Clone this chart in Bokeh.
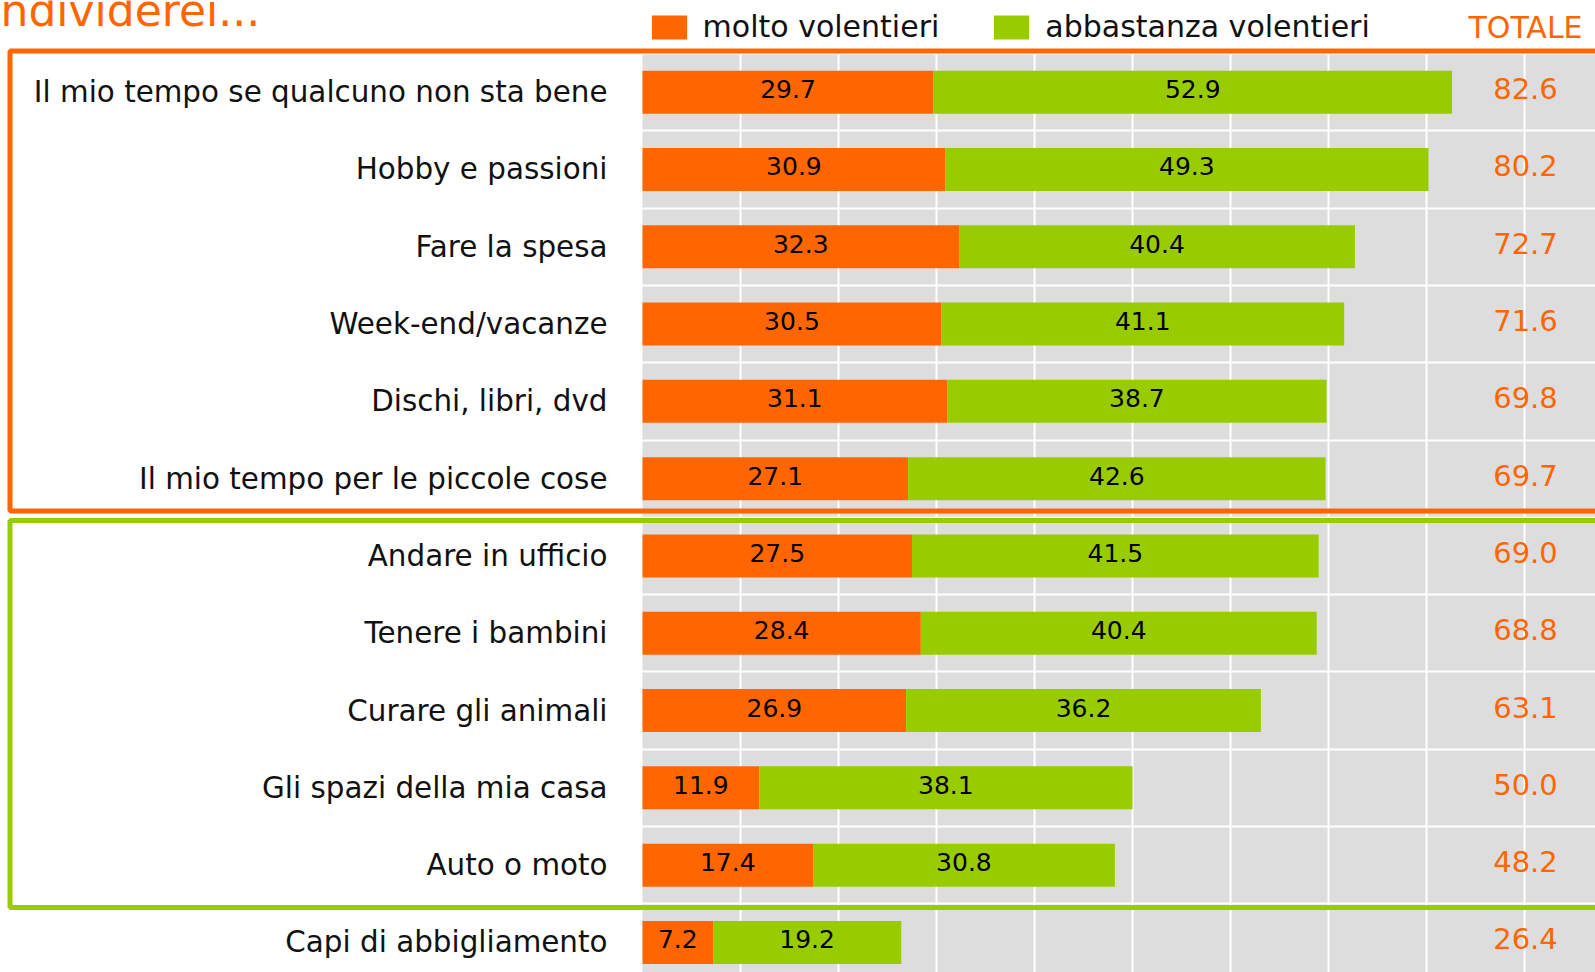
from bokeh.plotting import figure
from bokeh.models import (Range1d, FixedTicker, BoxAnnotation, Legend,
                          LegendItem, ColumnDataSource, Grid)
from bokeh.embed import file_html
from bokeh.resources import INLINE
from bokeh.core.properties import value

# ---------------- data ----------------
categories = [
    "Il mio tempo se qualcuno non sta bene",
    "Hobby e passioni",
    "Fare la spesa",
    "Week-end/vacanze",
    "Dischi, libri, dvd",
    "Il mio tempo per le piccole cose",
    "Andare in ufficio",
    "Tenere i bambini",
    "Curare gli animali",
    "Gli spazi della mia casa",
    "Auto o moto",
    "Capi di abbigliamento",
]
molto = [29.7, 30.9, 32.3, 30.5, 31.1, 27.1, 27.5, 28.4, 26.9, 11.9, 17.4, 7.2]
abbastanza = [52.9, 49.3, 40.4, 41.1, 38.7, 42.6, 41.5, 40.4, 36.2, 38.1, 30.8, 19.2]
totale = [82.6, 80.2, 72.7, 71.6, 69.8, 69.7, 69.0, 68.8, 63.1, 50.0, 48.2, 26.4]
series_names = ["molto volentieri", "abbastanza volentieri"]
total_header = "TOTALE"
title_text = "ndividerei..."
x_grid_ticks = [10, 20, 30, 40, 50, 60, 70, 80, 90]

# ---------------- style / layout ----------------
ORANGE = "#FF6600"
GREEN = "#99CC00"
GREY = "#DDDDDD"
FONT = value("DejaVu Sans")

W, H = 1595, 972
X0_PX, Y12_PX = 642, 53   # pixel position of x=0 and of the top row boundary
PX_X = 9.8                # pixels per unit on x
PX_Y = 77.3               # pixels per row
n = len(categories)

def page_x(px):   # canvas pixel -> data x
    return (px - X0_PX) / PX_X

def page_y(py):   # canvas pixel -> data y
    return n - (py - Y12_PX) / PX_Y

x_start, x_end = page_x(0), page_x(W)
y_start, y_top = page_y(H), page_y(0)

ys = [n - 0.5 - i for i in range(n)]

src = ColumnDataSource(dict(
    y=ys,
    cat=categories,
    molto=molto,
    abb=abbastanza,
    tot=[m + a for m, a in zip(molto, abbastanza)],
    molto_mid=[m / 2 for m in molto],
    abb_mid=[m + a / 2 for m, a in zip(molto, abbastanza)],
    molto_txt=[f"{v:.1f}" for v in molto],
    abb_txt=[f"{v:.1f}" for v in abbastanza],
    tot_txt=[f"{v:.1f}" for v in totale],
))

p = figure(width=W, height=H, output_backend="svg", toolbar_location=None,
           x_range=Range1d(x_start, x_end), y_range=Range1d(y_start, y_top),
           x_axis_location=None, y_axis_location=None,
           min_border_left=0, min_border_top=0,
           min_border_right=0, min_border_bottom=0,
           background_fill_color="white", border_fill_color="white",
           outline_line_color=None)

# remove default grids, add bounded ones
p.center = [r for r in p.center if not isinstance(r, Grid)]

# grey plotting area
p.add_layout(BoxAnnotation(left=0, top=n, fill_color=GREY, fill_alpha=1,
                           line_color=None, level="image"))

xgrid = Grid(dimension=0, ticker=FixedTicker(ticks=x_grid_ticks),
             cross_bounds=(y_start, n), grid_line_color="white",
             grid_line_width=2)
ygrid = Grid(dimension=1, ticker=FixedTicker(ticks=list(range(0, n + 1))),
             cross_bounds=(0, x_end), grid_line_color="white",
             grid_line_width=2)
p.add_layout(xgrid)
p.add_layout(ygrid)

# category labels
p.text(x=page_x(607), y="y", text="cat", source=src, text_align="right",
       text_baseline="middle", text_font=FONT, text_font_size="29.4px",
       text_color="#111111")

# bars
BAR_H = 43 / PX_Y
r1 = p.hbar(y="y", left=0, right="molto", height=BAR_H, source=src,
            fill_color=ORANGE, line_color=None)
r2 = p.hbar(y="y", left="molto", right="tot", height=BAR_H, source=src,
            fill_color=GREEN, line_color=None)

# value labels
p.text(x="molto_mid", y="y", text="molto_txt", source=src, text_align="center",
       text_baseline="middle", text_font=FONT, text_font_size="25px",
       text_color="black", y_offset=-3)
p.text(x="abb_mid", y="y", text="abb_txt", source=src, text_align="center",
       text_baseline="middle", text_font=FONT, text_font_size="25px",
       text_color="black", y_offset=-3)
p.text(x=page_x(1525), y="y", text="tot_txt", source=src, text_align="center",
       text_baseline="middle", text_font=FONT, text_font_size="29px",
       text_color=ORANGE, y_offset=-3.5)

# group frames
box1 = BoxAnnotation(left=page_x(9.5), right=x_end + 10,
                     top=page_y(50.5), bottom=page_y(510.5),
                     fill_color=None, fill_alpha=0, line_color=ORANGE,
                     line_alpha=1, line_width=5, level="overlay")
box2 = BoxAnnotation(left=page_x(9.5), right=x_end + 10,
                     top=page_y(520), bottom=page_y(907),
                     fill_color=None, fill_alpha=0, line_color=GREEN,
                     line_alpha=1, line_width=5, level="overlay")
p.add_layout(box1)
p.add_layout(box2)

# legend
legend = Legend(items=[LegendItem(label=series_names[0], renderers=[r1]),
                       LegendItem(label=series_names[1], renderers=[r2])],
                orientation="horizontal", location=(646.6, 928),
                glyph_width=44, glyph_height=30, label_standoff=12,
                spacing=50, padding=0, margin=0,
                border_line_color=None, background_fill_alpha=0,
                label_text_font="DejaVu Sans", label_text_font_size="30px",
                label_text_color="#111111")
p.add_layout(legend)

# header + title
p.text(x=[page_x(1525)], y=[page_y(27)], text=[total_header],
       text_align="center", text_baseline="alphabetic", text_font=FONT,
       text_font_size="30px", text_color=ORANGE)
p.text(x=[page_x(0)], y=[page_y(10)], text=[title_text],
       text_align="left", text_baseline="alphabetic", text_font=FONT,
       text_font_size="44px", text_color=ORANGE)

open("out.html", "w").write(file_html(p, INLINE))
